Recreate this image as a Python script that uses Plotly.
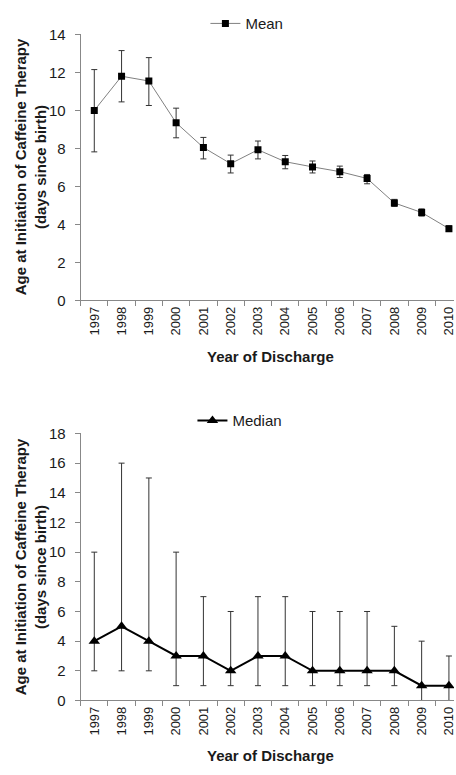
import plotly.graph_objects as go

years = [str(y) for y in range(1997, 2011)]

# Mean age at caffeine start with error bar limits
mean_vals = [10.0, 11.8, 11.55, 9.35, 8.05, 7.2, 7.93, 7.3, 7.03, 6.78, 6.42, 5.13, 4.63, 3.78]
mean_upper = [12.15, 13.15, 12.78, 10.12, 8.58, 7.65, 8.39, 7.63, 7.34, 7.07, 6.63, 5.32, 4.82, 3.93]
mean_lower = [7.82, 10.45, 10.26, 8.56, 7.45, 6.71, 7.45, 6.93, 6.71, 6.47, 6.14, 4.95, 4.44, 3.63]

# Median age with range limits
median_vals = [4, 5, 4, 3, 3, 2, 3, 3, 2, 2, 2, 2, 1, 1]
median_upper = [10, 16, 15, 10, 7, 6, 7, 7, 6, 6, 6, 5, 4, 3]
median_lower = [2, 2, 2, 1, 1, 1, 1, 1, 1, 1, 1, 1, 0, 0]

W, H = 456, 775
FONT = "Liberation Sans, Arial, sans-serif"
TXT = "#1a1a1a"
AX = "#888888"


def px_y(p):
    return 1 - p / H


fig = go.Figure()

fig.add_trace(go.Scatter(
    x=years, y=mean_vals, name="Mean", mode="lines+markers",
    line=dict(color="#808080", width=1),
    marker=dict(symbol="square", size=7, color="black"),
    error_y=dict(type="data", symmetric=False,
                 array=[u - v for u, v in zip(mean_upper, mean_vals)],
                 arrayminus=[v - l for v, l in zip(mean_vals, mean_lower)],
                 color="#333333", thickness=1, width=3),
    xaxis="x", yaxis="y", legend="legend",
))

fig.add_trace(go.Scatter(
    x=years, y=median_vals, name="Median", mode="lines+markers",
    line=dict(color="black", width=2),
    marker=dict(symbol="triangle-up", size=10, color="black"),
    error_y=dict(type="data", symmetric=False,
                 array=[u - v for u, v in zip(median_upper, median_vals)],
                 arrayminus=[v - l for v, l in zip(median_vals, median_lower)],
                 color="#333333", thickness=1, width=3),
    xaxis="x2", yaxis="y2", legend="legend2",
))

x_dom = [81 / W, 1]
x_range = [-0.5, -0.5 + (W - 81) / 27.4]

xcommon = dict(
    type="category", range=x_range, domain=x_dom,
    showline=True, linecolor=AX, linewidth=1,
    ticks="outside", tickson="boundaries", ticklen=5, tickcolor=AX,
    tickangle=-90, tickfont=dict(family=FONT, size=13, color=TXT),
    showgrid=False, zeroline=False, fixedrange=True,
)
ycommon = dict(
    showline=True, linecolor=AX, linewidth=1,
    ticks="outside", ticklen=5, tickcolor=AX, ticklabelstandoff=6,
    tickfont=dict(family=FONT, size=15, color=TXT),
    showgrid=False, zeroline=False, fixedrange=True,
)

fig.update_layout(
    width=W, height=H,
    margin=dict(l=0, r=0, t=0, b=0),
    paper_bgcolor="white", plot_bgcolor="white",
    font=dict(family=FONT, color=TXT),
    xaxis=dict(**xcommon, anchor="y"),
    yaxis=dict(**ycommon, anchor="x", domain=[px_y(298), px_y(26)],
               range=[0, 14], tickvals=list(range(0, 15, 2))),
    xaxis2=dict(**xcommon, anchor="y2"),
    yaxis2=dict(**ycommon, anchor="x2", domain=[px_y(707), px_y(434)],
                range=[0, 18], tickvals=list(range(0, 19, 2))),
    legend=dict(x=248 / W, y=px_y(15), xanchor="center", yanchor="middle",
                orientation="h", bgcolor="rgba(0,0,0,0)",
                font=dict(family=FONT, size=15, color=TXT)),
    legend2=dict(x=241 / W, y=px_y(421), xanchor="center", yanchor="middle",
                 orientation="h", bgcolor="rgba(0,0,0,0)",
                 font=dict(family=FONT, size=15, color=TXT)),
    showlegend=True,
)

ytitle = "<b>Age at Initiation of Caffeine Therapy<br>(days since birth)</b>"
for yc in (161, 570):
    fig.add_annotation(text=ytitle, xref="paper", yref="paper",
                       x=31 / W, y=px_y(yc), xanchor="center", yanchor="middle",
                       textangle=-90, showarrow=False,
                       font=dict(family=FONT, size=15, color=TXT))
for yc in (355, 763):
    fig.add_annotation(text="<b>Year of Discharge</b>", xref="paper", yref="paper",
                       x=272 / W, y=px_y(yc), xanchor="center", yanchor="middle",
                       showarrow=False, font=dict(family=FONT, size=15, color=TXT))

fig.write_html("out.html")
